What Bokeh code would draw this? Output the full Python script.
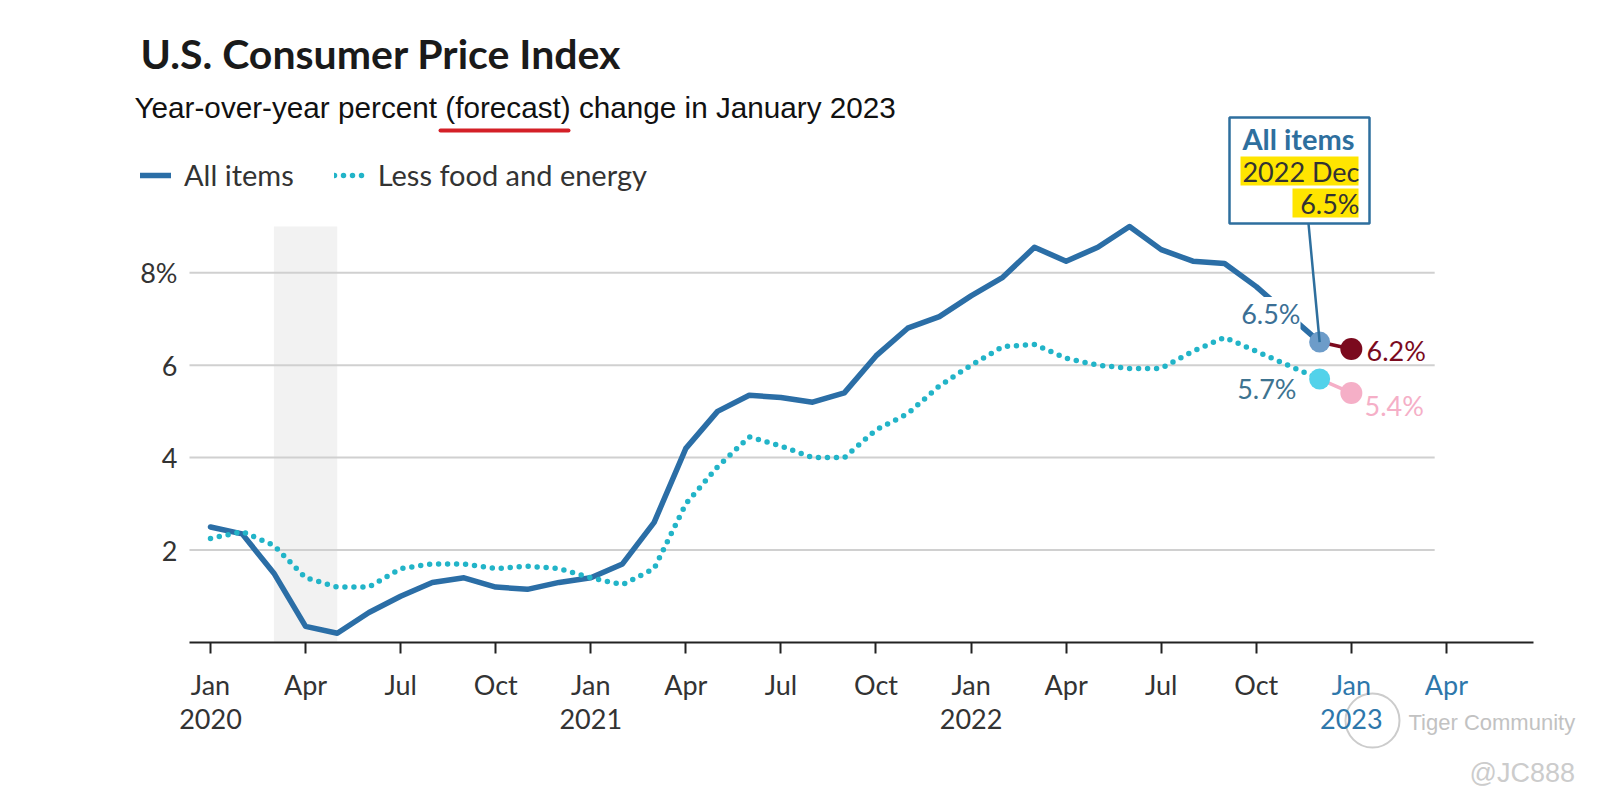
from bokeh.plotting import figure
from bokeh.models import Range1d, FixedTicker, Label, Legend, LegendItem, ColumnDataSource, LinearAxis
from bokeh.embed import file_html
from bokeh.resources import INLINE

# ---------------- data ----------------
month_index = list(range(36))          # 0 = Jan 2020 ... 35 = Dec 2022
all_items = [2.5, 2.35, 1.5, 0.35, 0.2, 0.65, 1.0, 1.3, 1.4, 1.2, 1.15, 1.3,
             1.4, 1.7, 2.6, 4.2, 5.0, 5.35, 5.3, 5.2, 5.4, 6.2, 6.8, 7.05,
             7.5, 7.9, 8.55, 8.25, 8.55, 9.0, 8.5, 8.25, 8.2, 7.7, 7.1, 6.5]
core = [2.25, 2.4, 2.1, 1.4, 1.2, 1.2, 1.6, 1.7, 1.7, 1.6, 1.65, 1.6,
        1.4, 1.25, 1.6, 3.0, 3.8, 4.45, 4.25, 4.0, 4.0, 4.6, 4.95, 5.55,
        6.0, 6.4, 6.45, 6.15, 6.0, 5.93, 5.93, 6.3, 6.6, 6.3, 6.0, 5.7]
forecast_month = [35, 36]               # Dec 2022 -> Jan 2023
all_items_forecast = [6.5, 6.35]        # marker positions as drawn
core_forecast = [5.7, 5.4]
all_items_forecast_text = ["6.5%", "6.2%"]
core_forecast_text = ["5.7%", "5.4%"]
recession = [2, 4]                      # shaded band (months)
recession_top = 9.0
y_ticks = [2, 4, 6, 8]
x_ticks = list(range(0, 40, 3))
month_names = {0: "Jan", 3: "Apr", 6: "Jul", 9: "Oct"}
first_year = 2020

# ---------------- layout constants (page px) ----------------
W, H = 1585, 793
AXIS_L, AXIS_R = 189, 1533
ZERO_Y = 642
X0 = 210
PX_MONTH = 31.69
PX_PCT = 46.22


def px_x(X):
    return (X - X0) / PX_MONTH


def px_y(Y):
    return (ZERO_Y - Y) / PX_PCT


FONT = "Lato"
BLUE = "#2b6ea6"
CYAN = "#22b4c8"
DARKRED = "#7b0a1e"
PINK = "#f5afc7"
BOXBLUE = "#2e6f9e"
AXBLUE = "#2e77ab"

p = figure(width=W, height=H, title=None,
           x_range=Range1d(px_x(0), px_x(W)),
           y_range=Range1d(px_y(H), px_y(0)),
           x_axis_location=None, y_axis_location=None,
           min_border_left=0, min_border_right=0, min_border_top=0, min_border_bottom=0,
           toolbar_location=None, output_backend="svg")
p.outline_line_color = None
p.xgrid.visible = False
p.ygrid.visible = False
p.background_fill_color = "white"
p.border_fill_color = "white"

# x axis (fixed at y = 0)
xo = {}
for t in x_ticks:
    name = month_names[t % 12]
    if t >= 36:
        xo[t] = ""
    elif t % 12 == 0:
        xo[t] = f"{name}\n{first_year + t // 12}"
    else:
        xo[t] = name
xaxis = LinearAxis(fixed_location=0, bounds=(px_x(AXIS_L), px_x(AXIS_R)),
                   ticker=FixedTicker(ticks=x_ticks), major_label_overrides=xo,
                   axis_line_width=2, axis_line_color="#222222",
                   major_tick_out=11, major_tick_in=0, major_tick_line_width=2,
                   major_tick_line_color="#222222", minor_tick_line_color=None,
                   major_label_standoff=14, major_label_text_font=FONT,
                   major_label_text_font_size="27px", major_label_text_color="#333333",
                   major_label_text_line_height=1.05)
p.add_layout(xaxis, "below")

# y axis (fixed at left edge of the axis line)
yaxis = LinearAxis(fixed_location=px_x(AXIS_L), ticker=FixedTicker(ticks=y_ticks),
                   major_label_overrides={t: (f"{t}%" if t == y_ticks[-1] else str(t)) for t in y_ticks},
                   axis_line_color=None, major_tick_line_color=None, minor_tick_line_color=None,
                   major_tick_out=0, major_tick_in=0, major_label_standoff=12,
                   major_label_text_font=FONT, major_label_text_font_size="27px",
                   major_label_text_color="#333333")
p.add_layout(yaxis, "left")

# recession band and gridlines
p.quad(left=[recession[0]], right=[recession[1]], bottom=[0], top=[recession_top],
       fill_color="#f2f2f2", line_color=None)
p.segment(x0=[px_x(AXIS_L)] * len(y_ticks), x1=[x_ticks[-1] - 0.37] * len(y_ticks),
          y0=y_ticks, y1=y_ticks, line_color="#d0d0d0", line_width=2)

# main lines
src = ColumnDataSource(dict(m=month_index, a=all_items, c=core))
r_all = p.line("m", "a", source=src, line_color=BLUE, line_width=5.5,
               line_join="round", line_cap="round")
r_core = p.line("m", "c", source=src, line_color=CYAN, line_width=5.5,
                line_dash="0 9", line_cap="round")

# forecast connectors and dots
p.line(forecast_month, all_items_forecast, line_color=DARKRED, line_width=3.5)
p.line(forecast_month, core_forecast, line_color=PINK, line_width=3.5)
p.scatter([forecast_month[0]], [all_items_forecast[0]], size=21, fill_color="#6d9cc9", line_color=None)
p.scatter([forecast_month[1]], [all_items_forecast[1]], size=22, fill_color=DARKRED, line_color=None)
p.scatter([forecast_month[0]], [core_forecast[0]], size=21, fill_color="#52d2ea", line_color=None)
p.scatter([forecast_month[1]], [core_forecast[1]], size=22, fill_color=PINK, line_color=None)

# callout box
p.quad(left=[px_x(1229)], right=[px_x(1369)], top=[px_y(117)], bottom=[px_y(223)],
       fill_color="white", line_color=BOXBLUE, line_width=2.5)
p.quad(left=[px_x(1240), px_x(1292)], right=[px_x(1358), px_x(1358)],
       top=[px_y(156), px_y(188)], bottom=[px_y(185), px_y(217)],
       fill_color="#ffe500", line_color=None)
p.segment(x0=[px_x(1308)], y0=[px_y(223)], x1=[forecast_month[0]], y1=[all_items_forecast[0]],
          line_color=BOXBLUE, line_width=2.5)

# watermark logo ring
p.scatter([px_x(1372)], [px_y(720)], size=54, fill_color=None, line_color="#cccccc", line_width=2)


def lab(text, X, Y, size="27px", color="#333333", align="left", baseline="middle",
        style="normal", font=FONT, bg=None):
    kw = dict(x=px_x(X), y=px_y(Y), text=text, text_font=font, text_font_size=size,
              text_color=color, text_align=align, text_baseline=baseline,
              text_font_style=style)
    if bg:
        kw["background_fill_color"] = bg
    p.add_layout(Label(**kw))


lab("All items", 1298, 138, size="29px", color=BOXBLUE, align="center", style="bold")
lab("2022 Dec", 1359, 171, size="27px", align="right")
lab(all_items_forecast_text[0], 1359, 203, size="27px", align="right")

# value labels
lab(all_items_forecast_text[0], 1300, 313, color="#3b6f95", align="right", bg="white")
lab(core_forecast_text[0], 1296, 388, color="#3d7390", align="right")
lab(all_items_forecast_text[1], 1366, 350, color=DARKRED)
lab(core_forecast_text[1], 1364, 405, color=PINK)

# blue axis labels for 2023
lab("Jan", X0 + 36 * PX_MONTH, 684, color=AXBLUE, align="center")
lab(f"{first_year + 3}", X0 + 36 * PX_MONTH, 718, color=AXBLUE, align="center")
lab("Apr", X0 + 39 * PX_MONTH, 684, color=AXBLUE, align="center")

# titles
lab("U.S. Consumer Price Index", 140, 53, size="41px", color="#1a1a1a", style="bold")
lab("Year-over-year percent (forecast) change in January 2023", 134, 107, size="29.7px",
    color="#111111", font="Liberation Sans")
p.segment(x0=[px_x(440)], x1=[px_x(568)], y0=[px_y(130)], y1=[px_y(130)],
          line_color="#d42027", line_width=4, line_cap="round")

# watermark
lab("Tiger Community", 1408, 722, size="22px", color="#c2c2c2", font="Liberation Sans")
lab("@JC888", 1469, 772, size="27px", color="#cccccc", font="Liberation Sans")

# legend
legend = Legend(items=[LegendItem(label="All items", renderers=[r_all]),
                       LegendItem(label="Less food and energy", renderers=[r_core])],
                orientation="horizontal", location=(140, H - 177 - 15),
                glyph_width=31, glyph_height=20, label_standoff=13, spacing=40,
                padding=0, margin=0, border_line_color=None, background_fill_alpha=0,
                label_text_font=FONT, label_text_font_size="29px",
                label_text_color="#333333")
p.add_layout(legend)

open("out.html", "w").write(file_html(p, INLINE))
